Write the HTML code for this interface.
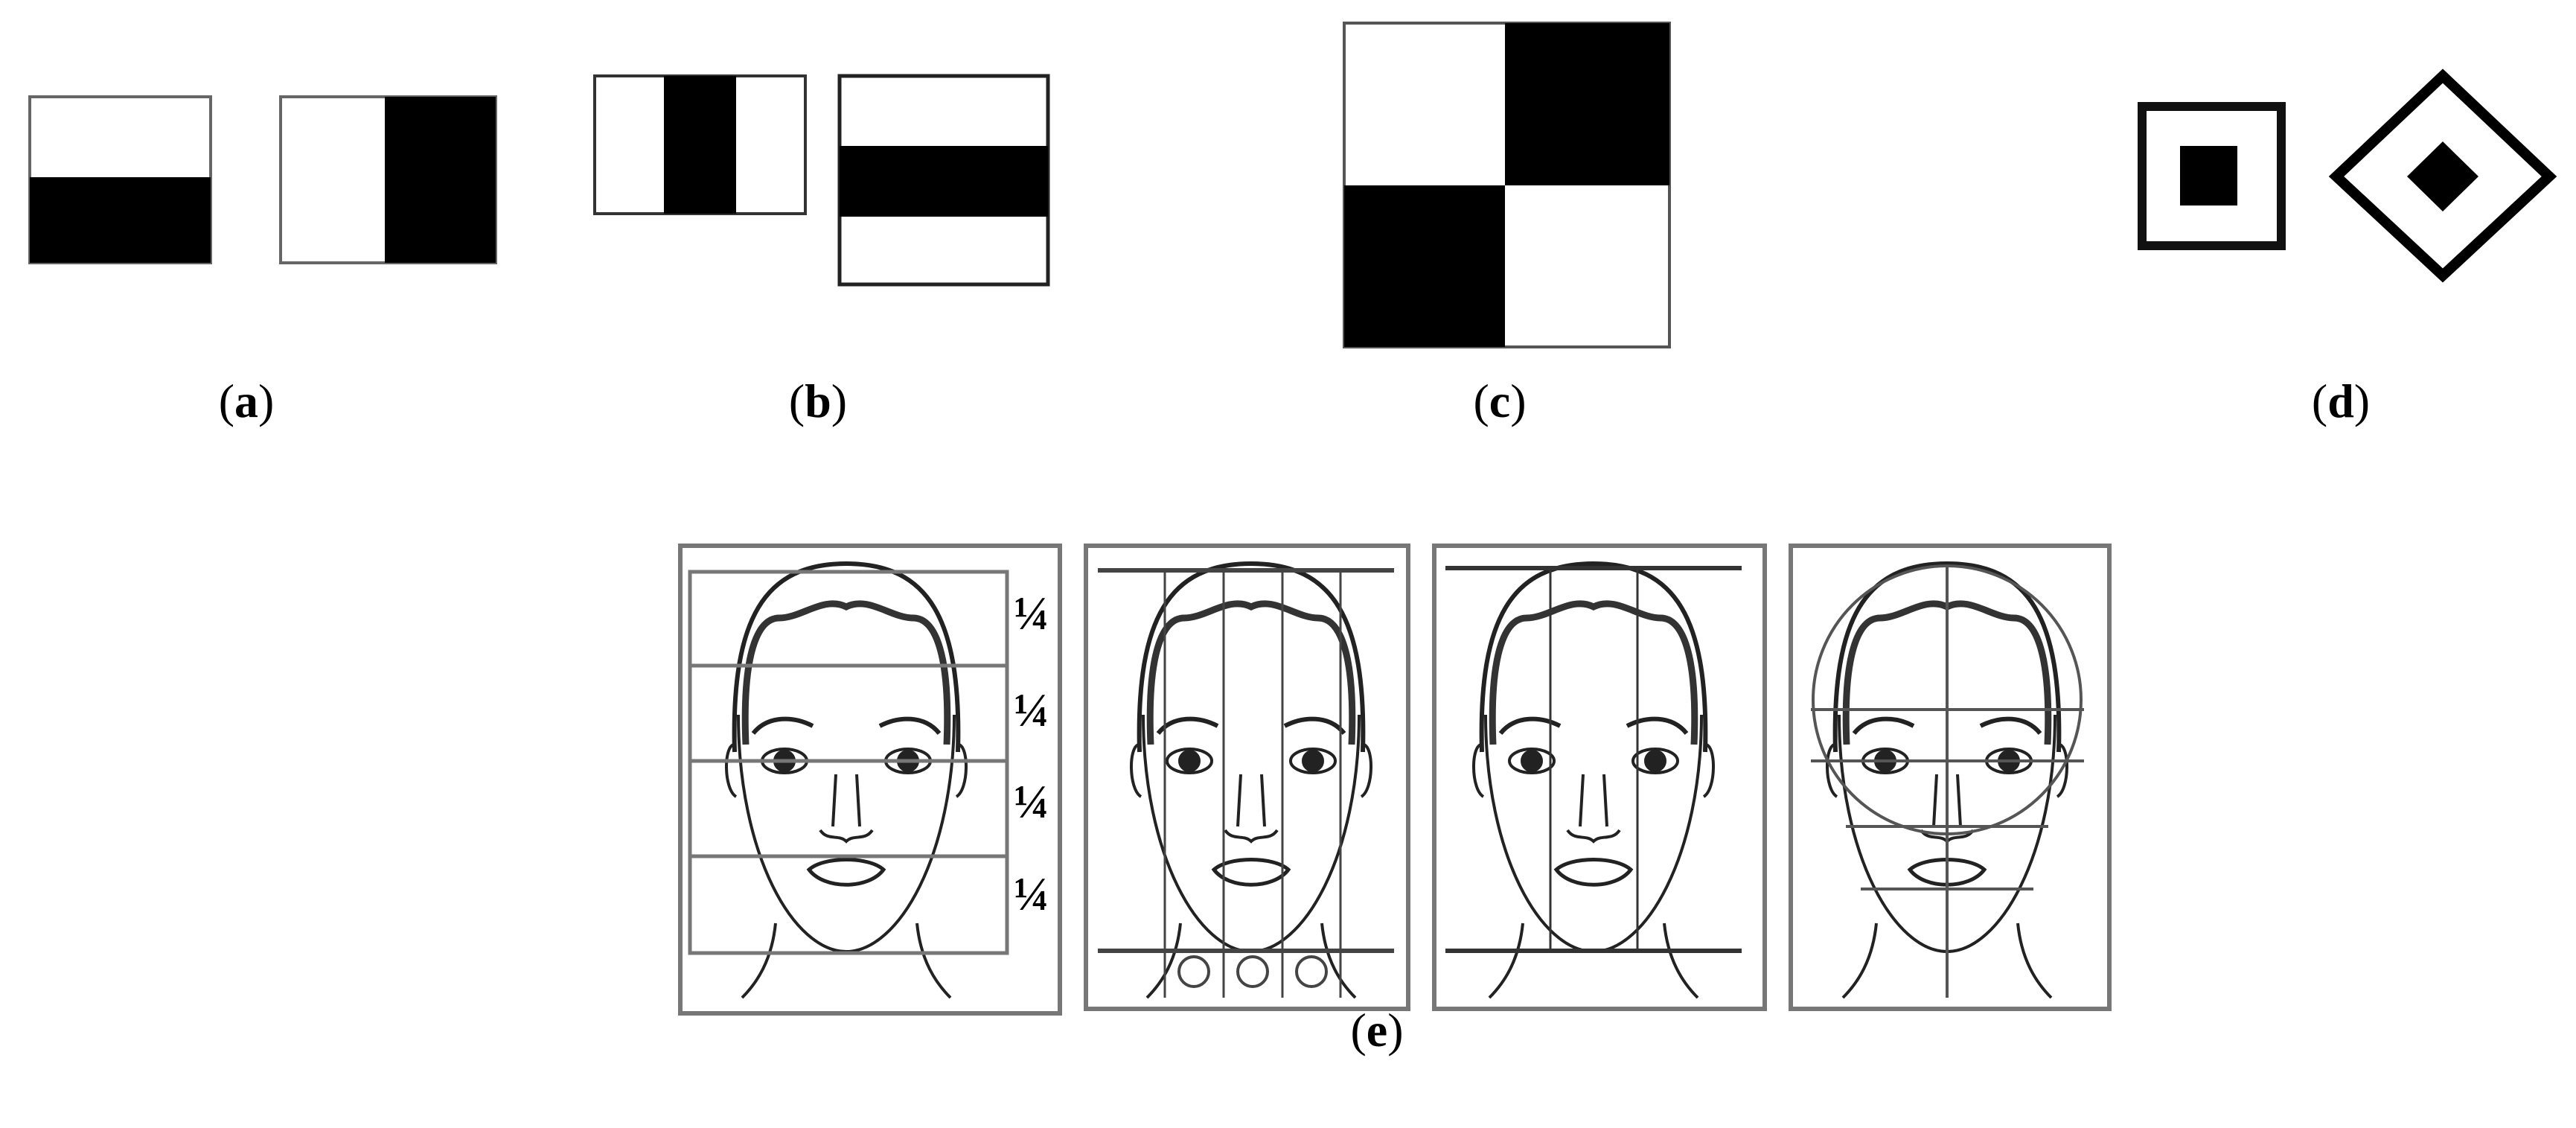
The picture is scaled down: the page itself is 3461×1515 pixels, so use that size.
<!DOCTYPE html>
<html><head><meta charset="utf-8"><style>
html,body{margin:0;padding:0;background:#fff}
svg{display:block}
text{font-family:"Liberation Serif",serif;font-size:64px;fill:#000}
</style></head><body>
<svg width="3461" height="1515" viewBox="0 0 3461 1515" xmlns="http://www.w3.org/2000/svg">
<defs>
<g id="face" fill="none" stroke="#222" stroke-width="4">
  <path d="M -150,1010 C -155,830 -110,757 0,757 C 110,757 155,830 150,1010" stroke-width="6"/>
  <path d="M -135,1000 C -140,880 -120,830 -90,830 C -60,830 -30,800 0,815 C 30,800 60,830 90,830 C 120,830 140,880 135,1000" stroke-width="9" stroke="#333"/>
  <path d="M -145,960 C -145,1150 -70,1278 0,1278 C 70,1278 145,1150 145,960"/>
  <path d="M -125,985 C -105,960 -70,962 -45,975 M 45,975 C 70,962 105,960 125,985" stroke-width="6"/>
  <ellipse cx="-83" cy="1022" rx="30" ry="16"/>
  <ellipse cx="83" cy="1022" rx="30" ry="16"/>
  <circle cx="-83" cy="1022" r="13" fill="#222"/>
  <circle cx="83" cy="1022" r="13" fill="#222"/>
  <path d="M -14,1040 L -18,1110 M 14,1040 L 18,1110 M -35,1115 C -25,1130 -10,1120 0,1130 C 10,1120 25,1130 35,1115"/>
  <path d="M -50,1168 C -30,1150 30,1150 50,1168 C 30,1195 -30,1195 -50,1168 Z" stroke-width="5"/>
  <path d="M -95,1240 C -100,1290 -120,1320 -140,1340 M 95,1240 C 100,1290 120,1320 140,1340"/>
  <path d="M -150,1000 C -165,1000 -165,1060 -148,1070 M 150,1000 C 165,1000 165,1060 148,1070"/>
</g>
</defs>
<!-- (a) -->
<rect x="40" y="130" width="243" height="223" fill="#fff" stroke="#666" stroke-width="4"/>
<rect x="40" y="238" width="243" height="115" fill="#000"/>
<rect x="377" y="130" width="289" height="223" fill="#fff" stroke="#666" stroke-width="4"/>
<rect x="517" y="130" width="149" height="223" fill="#000"/>
<!-- (b) -->
<rect x="799" y="102" width="283" height="185" fill="#fff" stroke="#333" stroke-width="4"/>
<rect x="892" y="102" width="97" height="185" fill="#000"/>
<rect x="1128" y="102" width="280" height="280" fill="#fff" stroke="#222" stroke-width="5"/>
<rect x="1128" y="196" width="280" height="95" fill="#000"/>
<!-- (c) -->
<rect x="1806" y="31" width="437" height="435" fill="#fff" stroke="#555" stroke-width="4"/>
<rect x="2022" y="31" width="221" height="218" fill="#000"/>
<rect x="1806" y="249" width="216" height="217" fill="#000"/>
<!-- (d) -->
<rect x="2878" y="143" width="187" height="187" fill="#fff" stroke="#111" stroke-width="12"/>
<rect x="2929" y="196" width="77" height="80" fill="#000"/>
<polygon points="3282,102 3425,237 3282,370 3139,237" fill="#fff" stroke="#000" stroke-width="14"/>
<polygon points="3282,190 3330,237 3282,284 3234,237" fill="#000"/>
<!-- labels -->
<text x="331" y="560" text-anchor="middle">(<tspan font-weight="bold">a</tspan>)</text>
<text x="1099" y="560" text-anchor="middle">(<tspan font-weight="bold">b</tspan>)</text>
<text x="2015" y="560" text-anchor="middle">(<tspan font-weight="bold">c</tspan>)</text>
<text x="3145" y="560" text-anchor="middle">(<tspan font-weight="bold">d</tspan>)</text>
<text x="1850" y="1405" text-anchor="middle">(<tspan font-weight="bold">e</tspan>)</text>
<!-- panel frames -->
<g fill="none" stroke="#777" stroke-width="6">
<rect x="914" y="733" width="510" height="628"/>
<rect x="1459" y="733" width="433" height="622"/>
<rect x="1927" y="733" width="444" height="622"/>
<rect x="2406" y="733" width="428" height="622"/>
</g>
<!-- panel 1 -->
<use href="#face" transform="translate(1137,0)"/>
<g stroke="#777" stroke-width="5" fill="none">
<rect x="927" y="768" width="426" height="512"/>
<line x1="927" y1="894" x2="1353" y2="894"/>
<line x1="927" y1="1022" x2="1353" y2="1022"/>
<line x1="927" y1="1150" x2="1353" y2="1150"/>
</g>
<g font-family="Liberation Sans,sans-serif" font-size="40" font-weight="bold">
<text x="1362" y="845" font-size="40" font-family="Liberation Sans,sans-serif" font-weight="bold">¼</text>
<text x="1362" y="975" font-size="40" font-family="Liberation Sans,sans-serif" font-weight="bold">¼</text>
<text x="1362" y="1098" font-size="40" font-family="Liberation Sans,sans-serif" font-weight="bold">¼</text>
<text x="1362" y="1222" font-size="40" font-family="Liberation Sans,sans-serif" font-weight="bold">¼</text>
</g>
<!-- panel 2 -->
<use href="#face" transform="translate(1681,0)"/>
<g stroke="#444" fill="none">
<line x1="1475" y1="766" x2="1873" y2="766" stroke-width="6"/>
<line x1="1475" y1="1277" x2="1873" y2="1277" stroke-width="6"/>
<line x1="1565" y1="766" x2="1565" y2="1340" stroke-width="3"/>
<line x1="1644" y1="766" x2="1644" y2="1340" stroke-width="3"/>
<line x1="1723" y1="766" x2="1723" y2="1340" stroke-width="3"/>
<line x1="1801" y1="766" x2="1801" y2="1340" stroke-width="3"/>
<circle cx="1604" cy="1305" r="20" stroke-width="4"/>
<circle cx="1683" cy="1305" r="20" stroke-width="4"/>
<circle cx="1762" cy="1305" r="20" stroke-width="4"/>
</g>
<!-- panel 3 -->
<use href="#face" transform="translate(2141,0)"/>
<g stroke="#333" fill="none">
<line x1="1942" y1="763" x2="2340" y2="763" stroke-width="6"/>
<line x1="1942" y1="1277" x2="2340" y2="1277" stroke-width="6"/>
<line x1="2083" y1="766" x2="2083" y2="1277" stroke-width="3"/>
<line x1="2200" y1="766" x2="2200" y2="1277" stroke-width="3"/>
</g>
<!-- panel 4 -->
<use href="#face" transform="translate(2616,0)"/>
<g stroke="#555" fill="none" stroke-width="4">
<circle cx="2616" cy="940" r="180"/>
<line x1="2616" y1="760" x2="2616" y2="1340"/>
<line x1="2433" y1="953" x2="2800" y2="953"/>
<line x1="2433" y1="1022" x2="2800" y2="1022"/>
<line x1="2480" y1="1110" x2="2752" y2="1110"/>
<line x1="2500" y1="1194" x2="2732" y2="1194"/>
</g>
</svg>
</body></html>
